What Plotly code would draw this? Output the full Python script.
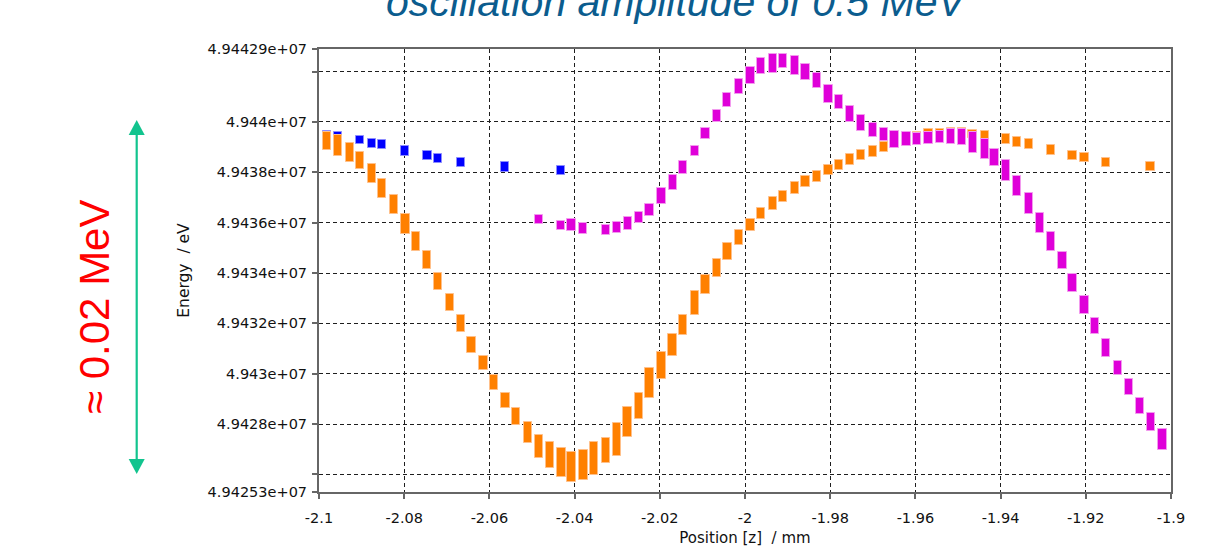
import plotly.graph_objects as go

# ---------------- data ----------------
blue_x = [-2.0981, -2.0955, -2.0904, -2.0876, -2.0852, -2.0798, -2.0745, -2.0721, -2.0667, -2.0563, -2.0432]
blue_lo = [49439292, 49439245, 49439113, 49438966, 49438915, 49438649, 49438505, 49438358, 49438227, 49438029, 49437893]
blue_hi = [49439650, 49439602, 49439459, 49439340, 49439272, 49439034, 49438847, 49438716, 49438585, 49438398, 49438251]

orange_x = [-2.0981, -2.0955, -2.0928, -2.0904, -2.0876, -2.0852, -2.0824, -2.0797, -2.0772, -2.0746,
            -2.0720, -2.0693, -2.0666, -2.0642, -2.0614, -2.0589, -2.0562, -2.0538, -2.0510, -2.0484,
            -2.0458, -2.0431, -2.0407, -2.0379, -2.0355, -2.0327, -2.0300, -2.0276, -2.0249, -2.0224,
            -2.0196, -2.0170, -2.0145, -2.0117, -2.0093, -2.0066, -2.0041, -2.0014, -1.9987, -1.9962,
            -1.9934, -1.9910, -1.9883, -1.9858, -1.9831, -1.9804, -1.9779, -1.9753, -1.9728, -1.9700,
            -1.9674, -1.9649, -1.9621, -1.9596, -1.9569, -1.9543, -1.9516, -1.9491, -1.9466, -1.9437,
            -1.9387, -1.9362, -1.9334, -1.9282, -1.9231, -1.9203, -1.9152, -1.9048]
orange_lo = [49438903, 49438637, 49438398, 49438120, 49437576, 49436979, 49436332, 49435537, 49434889, 49434146,
             49433311, 49432477, 49431642, 49430808, 49430132, 49429337, 49428650, 49427958, 49427259, 49426663,
             49426238, 49425908, 49425681, 49425773, 49425960, 49426436, 49426742, 49427497, 49428185, 49429020,
             49429802, 49430689, 49431551, 49432346, 49433180, 49433828, 49434515, 49435127, 49435668, 49436133,
             49436518, 49436836, 49437154, 49437405, 49437631, 49437893, 49438080, 49438307, 49438478, 49438625,
             49438823, 49439034, 49439153, 49439233, 49439352, 49439392, 49439431, 49439431, 49439352, 49439312,
             49439141, 49439006, 49438943, 49438688, 49438490, 49438398, 49438211, 49438040]
orange_hi = [49439602, 49439471, 49439181, 49438807, 49438347, 49437735, 49437099, 49436360, 49435628, 49434861,
             49433999, 49433180, 49432318, 49431471, 49430689, 49429961, 49429246, 49428650, 49428094, 49427577,
             49427299, 49427060, 49426885, 49426981, 49427299, 49427442, 49428038, 49428674, 49429246, 49430212,
             49430859, 49431563, 49432346, 49433272, 49433919, 49434571, 49435179, 49435724, 49436161, 49436582,
             49437007, 49437273, 49437615, 49437842, 49438068, 49438307, 49438490, 49438728, 49438875, 49439046,
             49439221, 49439431, 49439511, 49439590, 49439737, 49439737, 49439777, 49439777, 49439682, 49439642,
             49439511, 49439419, 49439324, 49439101, 49438863, 49438768, 49438585, 49438398]

magenta_x = [-2.0484, -2.0432, -2.0407, -2.0380, -2.0327, -2.0301, -2.0275, -2.0249, -2.0224, -2.0196,
             -2.0169, -2.0145, -2.0118, -2.0093, -2.0066, -2.0042, -2.0014, -1.9987, -1.9962, -1.9934,
             -1.9910, -1.9883, -1.9858, -1.9831, -1.9804, -1.9779, -1.9753, -1.9728, -1.9700, -1.9674,
             -1.9649, -1.9621, -1.9596, -1.9569, -1.9543, -1.9516, -1.9490, -1.9465, -1.9437, -1.9414,
             -1.9387, -1.9362, -1.9334, -1.9308, -1.9282, -1.9255, -1.9231, -1.9203, -1.9178, -1.9152,
             -1.9124, -1.9099, -1.9073, -1.9047, -1.9020]
magenta_lo = [49435962, 49435724, 49435668, 49435537, 49435525, 49435577, 49435724, 49435986, 49436280, 49436741,
              49437285, 49437933, 49438637, 49439324, 49440016, 49440612, 49441128, 49441498, 49441923, 49441963,
              49442134, 49441883, 49441685, 49441367, 49440771, 49440516, 49440016, 49439642, 49439419, 49439245,
              49438982, 49439046, 49439101, 49439141, 49439181, 49439141, 49439101, 49438784, 49438545, 49438267,
              49437671, 49437059, 49436360, 49435577, 49434889, 49434146, 49433260, 49432386, 49431563, 49430677,
              49429945, 49429151, 49428412, 49427720, 49426981]
magenta_hi = [49436320, 49436065, 49436133, 49435986, 49435922, 49436026, 49436224, 49436411, 49436741, 49437377,
              49437893, 49438438, 49439046, 49439777, 49440476, 49441168, 49441724, 49442185, 49442543, 49442718,
              49442718, 49442611, 49442320, 49441963, 49441486, 49441073, 49440651, 49440278, 49439960, 49439777,
              49439642, 49439602, 49439578, 49439622, 49439642, 49439737, 49439737, 49439602, 49439312, 49438943,
              49438478, 49437842, 49437194, 49436399, 49435616, 49434833, 49433975, 49433085, 49432211, 49431364,
              49430502, 49429775, 49429020, 49428423, 49427815]

x_ticks = [-2.1, -2.08, -2.06, -2.04, -2.02, -2.0, -1.98, -1.96, -1.94, -1.92, -1.9]
x_ticktext = ["-2.1", "-2.08", "-2.06", "-2.04", "-2.02", "-2", "-1.98", "-1.96", "-1.94", "-1.92", "-1.9"]
y_ticks = [49425300, 49426000, 49428000, 49430000, 49432000, 49434000, 49436000, 49438000, 49440000, 49442000, 49442900]
y_ticktext = ["4.94253e+07", "", "4.9428e+07", "4.943e+07", "4.9432e+07", "4.9434e+07",
              "4.9436e+07", "4.9438e+07", "4.944e+07", "", "4.94429e+07"]

title_text = "oscillation amplitude of 0.5 MeV"
note_text = "≈ 0.02 MeV"

# ---------------- layout geometry (pixels) ----------------
W, H = 1218, 547
L, R, T, B = 319, 1171, 49, 492


def px_x(p):
    return (p - L) / (R - L)


def px_y(p):
    return (B - p) / (B - T)


fig = go.Figure()

series = [
    (blue_x, blue_lo, blue_hi, "#0000FF", "#8C8CFF"),
    (orange_x, orange_lo, orange_hi, "#FF8000", "#FFC08A"),
    (magenta_x, magenta_lo, magenta_hi, "#DF00D9", "#F29AEE"),
]
for xs, lo, hi, col, edge in series:
    fig.add_trace(go.Bar(
        x=xs, base=lo, y=[h - l for l, h in zip(lo, hi)],
        width=0.00195,
        marker=dict(color=col, line=dict(color=edge, width=1)),
        showlegend=False, hoverinfo="skip",
    ))

tick_font = dict(family="DejaVu Sans", size=14.5, color="#111111")
xtitle_font = dict(family="DejaVu Sans", size=15, color="#111111")
ytitle_font = dict(family="DejaVu Sans", size=15.5, color="#111111")

fig.update_layout(
    width=W, height=H,
    margin=dict(l=L, r=W - R, t=T, b=H - B),
    paper_bgcolor="white", plot_bgcolor="white",
    barmode="overlay", bargap=0,
    showlegend=False,
    xaxis=dict(
        range=[-2.1, -1.9], tickmode="array", tickvals=x_ticks, ticktext=x_ticktext,
        showgrid=True, gridcolor="#1e1e1e", griddash="4px,3px", gridwidth=1.2,
        showline=True, linecolor="#666666", linewidth=2, mirror=True,
        ticks="outside", ticklen=5, tickcolor="#666666", tickwidth=1.5,
        ticklabelstandoff=7, automargin=False,
        zeroline=False, tickfont=tick_font,
        title=dict(text="Position [z]  / mm", font=xtitle_font, standoff=12),
    ),
    yaxis=dict(
        range=[49425300, 49442900], tickmode="array", tickvals=y_ticks, ticktext=y_ticktext,
        showgrid=True, gridcolor="#1e1e1e", griddash="4px,3px", gridwidth=1.2,
        showline=True, linecolor="#666666", linewidth=2, mirror=True,
        ticks="outside", ticklen=5, tickcolor="#666666", tickwidth=1.5,
        ticklabelstandoff=2, automargin=False,
        zeroline=False, tickfont=tick_font,
        title=dict(text="Energy  / eV", font=ytitle_font, standoff=14),
    ),
)

# title (cut at top as in the reference)
fig.add_annotation(
    text=title_text, xref="paper", yref="paper",
    x=px_x(677), y=px_y(2), xanchor="center", yanchor="middle",
    showarrow=False,
    font=dict(family="Liberation Sans, Arial", size=41, color="#0B5C8E", style="italic"),
)

# red rotated note
fig.add_annotation(
    text=note_text, xref="paper", yref="paper",
    x=px_x(94), y=px_y(307), xanchor="center", yanchor="middle",
    textangle=-90, showarrow=False,
    font=dict(family="Liberation Sans, Arial", size=42, color="#FF0000"),
)

# green double-headed arrow
ac = "#12C48E"
ax_px = 136.7
top_tip, bot_tip, head_len, half_w = 120, 474, 15, 8
fig.add_shape(type="line", xref="paper", yref="paper",
              x0=px_x(ax_px), x1=px_x(ax_px), y0=px_y(top_tip + head_len - 1), y1=px_y(bot_tip - head_len + 1),
              line=dict(color=ac, width=2.2))
for tip, base in [(top_tip, top_tip + head_len), (bot_tip, bot_tip - head_len)]:
    path = "M {:.5f},{:.5f} L {:.5f},{:.5f} L {:.5f},{:.5f} Z".format(
        px_x(ax_px), px_y(tip), px_x(ax_px - half_w), px_y(base), px_x(ax_px + half_w), px_y(base))
    fig.add_shape(type="path", xref="paper", yref="paper", path=path,
                  fillcolor=ac, line=dict(color=ac, width=0))

fig.write_html("out.html")
